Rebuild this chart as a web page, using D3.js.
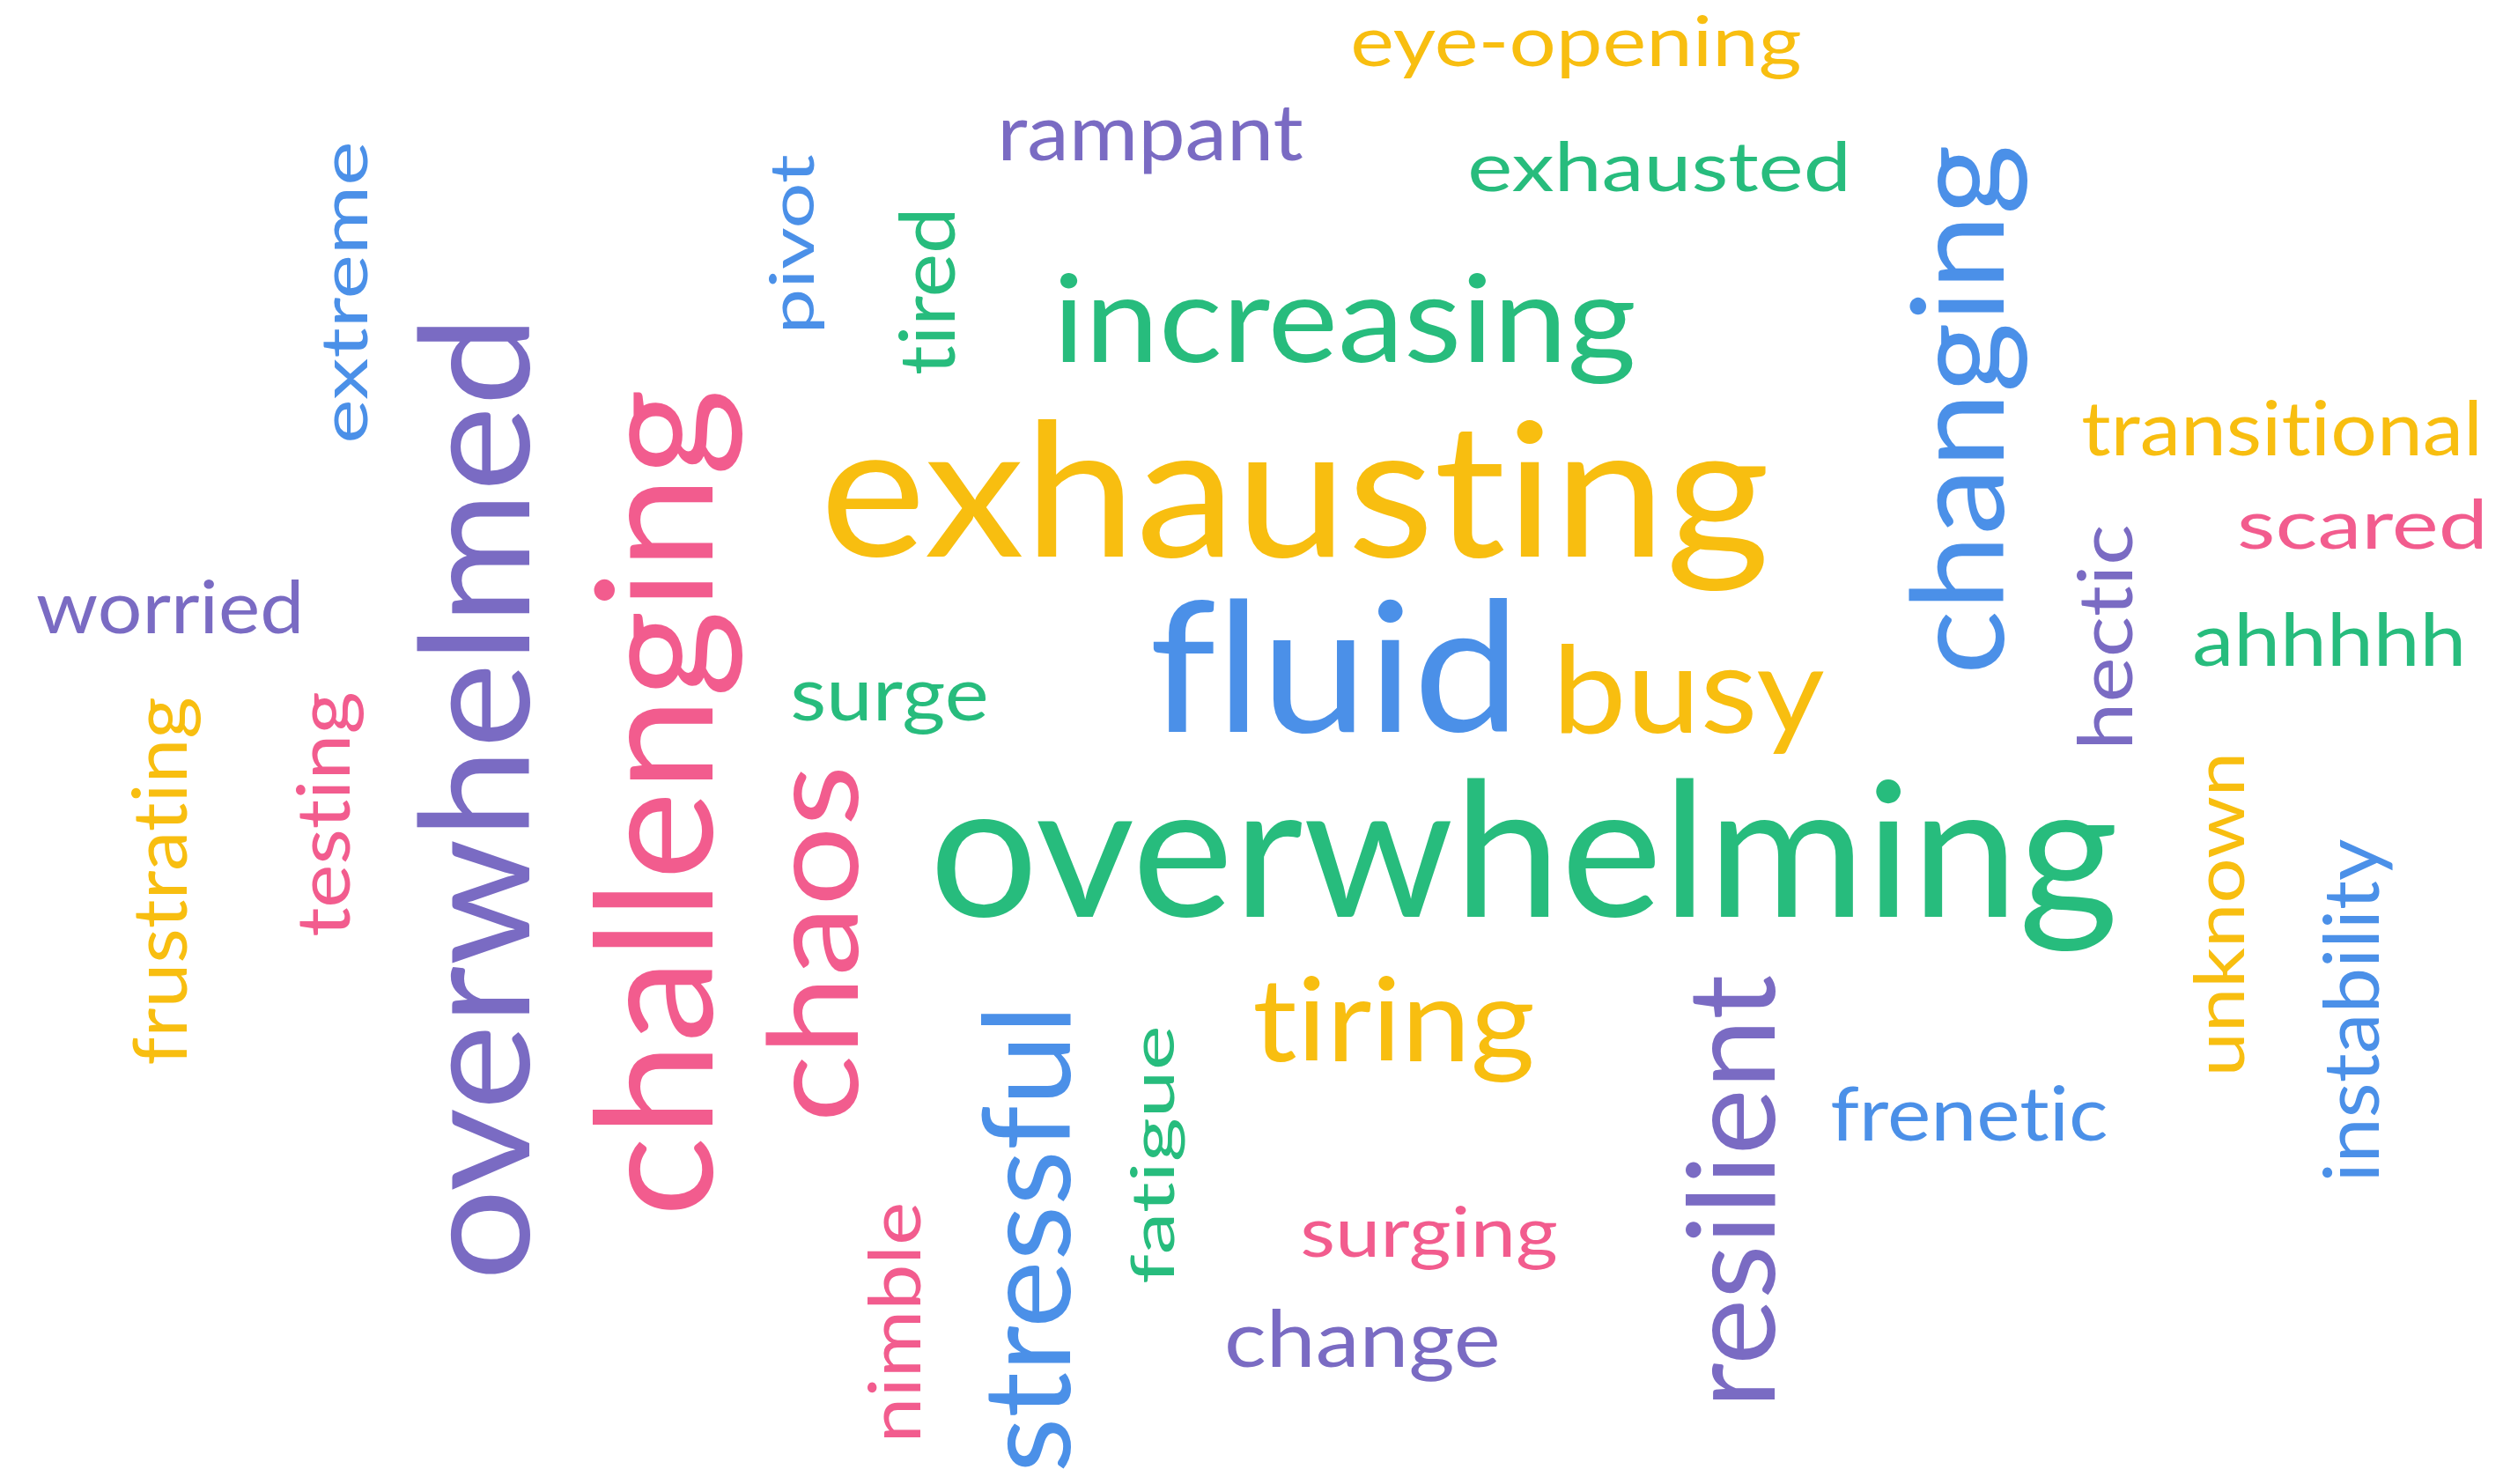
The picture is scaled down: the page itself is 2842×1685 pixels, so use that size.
<!DOCTYPE html>
<html>
<head>
<meta charset="utf-8">
<script src="https://cdn.jsdelivr.net/npm/d3@7/dist/d3.min.js"></script>
<style>
  html, body { margin: 0; padding: 0; background: #ffffff; }
  svg { display: block; }
  svg text { font-variant-ligatures: none; font-feature-settings: "liga" 0, "clig" 0; }
</style>
</head>
<body>
<script>
// ---------------- data ----------------
const words = ["eye-opening","rampant","exhausted","pivot","tired","extreme","increasing","changing",
  "overwhelmed","challenging","exhausting","transitional","scared","worried","fluid","busy","hectic",
  "ahhhhh","surge","frustrating","testing","chaos","overwhelming","unknown","instability","tiring",
  "stressful","fatigue","resilient","frenetic","surging","nimble","change"];
const counts = [4,4,4,4,4,4,7,7,9,9,10,4,4,4,10,7,4,4,4,4,4,7,10,4,4,7,7,4,7,4,4,4,4];
const colorGroup = ["yellow","purple","green","blue","green","blue","green","blue",
  "purple","pink","yellow","yellow","pink","purple","blue","yellow","purple",
  "green","green","yellow","pink","pink","green","yellow","blue","yellow",
  "blue","green","purple","blue","pink","pink","purple"];
const colorNames = ["yellow","green","blue","pink","purple"];
const colorValues = ["#F8BE10","#27BC7D","#4B90E8","#F25C8E","#7A6BC3"];

// ---------------- layout (word-cloud placement, reference-space units) ----------------
const orientation = [0,0,0,90,90,90,0,90,90,90,0,0,0,0,0,0,90,0,0,90,90,90,0,90,90,0,90,90,90,0,0,90,0];
const layoutX0 = [1537,1139,1670,872,1019,367,1203,2168,473,673,940,2365,2543,42,1309,1773,2358,2492,900,148,336,869,1064,2489,2637,1425,1113,1282,1913,2080,1479,985,1394];
const layoutY0 = [16,121,160,176,242,164,309,167,371,445,476,454,566,657,678,730,597,694,772,793,787,874,883,859,953,1107,1150,1168,1108,1232,1368,1368,1486];
const layoutX1 = [2044,1479,2095,936,1085,418,1855,2301,603,842,2005,2813,2818,339,1711,2071,2422,2795,1119,227,412,975,2401,2549,2716,1740,1216,1345,2016,2392,1767,1046,1700];
const layoutY1 = [89,197,218,373,424,500,436,760,1447,1374,670,518,624,720,833,856,845,757,833,1208,1062,1268,1080,1217,1338,1229,1668,1456,1589,1296,1441,1632,1568];

// ---------------- chart ----------------
const W = 2842, H = 1685;
const FONT = "Lato";
const x = d3.scaleLinear().domain([0, 2842]).range([0, W]);
const y = d3.scaleLinear().domain([0, 1685]).range([0, H]);
const color = d3.scaleOrdinal().domain(colorNames).range(colorValues);

const svg = d3.select("body").append("svg").attr("width", W).attr("height", H);
svg.append("rect").attr("width", W).attr("height", H).attr("fill", "#ffffff");

const ctx = document.createElement("canvas").getContext("2d");
ctx.font = `400 100px ${FONT}`;
if ("letterSpacing" in ctx) ctx.letterSpacing = "0.001px"; // disables ligatures in measurement

const data = words.map((w, i) => {
  const m = ctx.measureText(w);
  return {
    text: w, count: counts[i], group: colorGroup[i], rot: orientation[i],
    x0: x(layoutX0[i]), y0: y(layoutY0[i]), x1: x(layoutX1[i]), y1: y(layoutY1[i]),
    L: m.actualBoundingBoxLeft, R: m.actualBoundingBoxRight,
    A: m.actualBoundingBoxAscent, D: m.actualBoundingBoxDescent
  };
});

svg.append("g").selectAll("text").data(data).join("text")
  .text(d => d.text)
  .attr("font-family", FONT)
  .attr("font-weight", 400)
  .attr("fill", d => color(d.group))
  .each(function(d) {
    const inkW = d.L + d.R, inkH = d.A + d.D;
    let along, across;
    if (d.rot === 0) { along = d.x1 - d.x0; across = d.y1 - d.y0; }
    else { along = d.y1 - d.y0; across = d.x1 - d.x0; }
    const s = across / inkH;           // per 100px font
    const size = 100 * s;
    const sx = along / (inkW * s);
    let t;
    if (d.rot === 0) {
      t = `translate(${d.x0},${d.y0}) scale(${sx},1) translate(${d.L * s},${d.A * s})`;
    } else {
      t = `translate(${d.x0 + d.A * s},${d.y1}) rotate(-90) scale(${sx},1) translate(${d.L * s},0)`;
    }
    d3.select(this).attr("font-size", size).attr("transform", t);
  });
</script>
</body>
</html>
